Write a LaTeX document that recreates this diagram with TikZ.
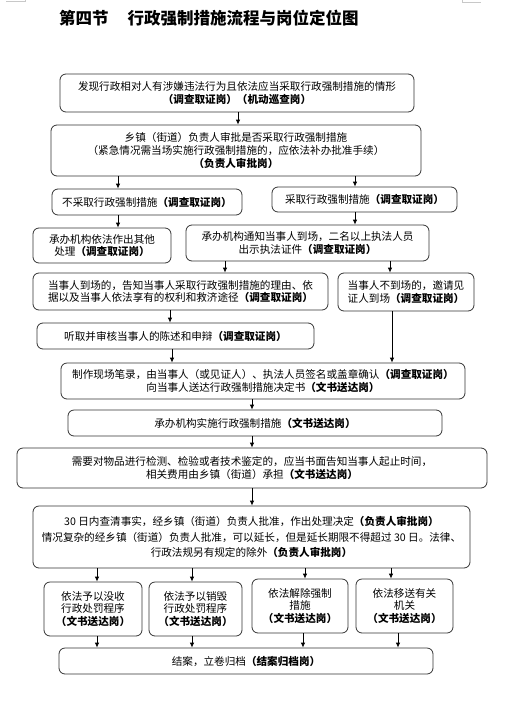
\documentclass[tikz,border=0pt]{standalone}
\usepackage{fontspec}
\setmainfont{Noto Sans CJK SC}
\usepackage{tikz}
\usetikzlibrary{arrows.meta, positioning, calc}
\definecolor{boxline}{HTML}{333333}
\definecolor{cropgray}{HTML}{C8C8C8}
\tikzset{
	flowbox/.style={
			draw=boxline,
			line width=0.8pt,
			rounded corners=6pt,
			align=center,
			inner sep=0pt,
			font=\fontsize{10.6}{12.8}\selectfont
		},
	flow/.style={
			line width=0.8pt,
			-{Latex[length=5pt,width=4.5pt]}
		},
	titletext/.style={
			anchor=west,
			inner sep=0pt,
			font=\fontsize{16.5}{18}\selectfont\bfseries
		}
}

\begin{document}
\begin{tikzpicture}[x=1pt, y=-1pt]
\useasboundingbox (0,0) rectangle (506,705);
\draw[cropgray, line width=0.6pt] (6,1) -- (25,1) -- (25,0);
\draw[cropgray, line width=0.6pt] (462,0) -- (462,2) -- (481,2);

\node[titletext] (title) at (59,18) {第四节\hspace{19pt}行政强制措施流程与岗位定位图};

\node[flowbox, minimum width=354pt, minimum height=38pt] (b1) at (237,93)
  {发现行政相对人有涉嫌违法行为且依法应当采取行政强制措施的情形\\\textbf{（调查取证岗）（机动巡查岗）}};
\node[flowbox, minimum width=370pt, minimum height=51pt] (b2) at (236,150.5)
  {乡镇（街道）负责人审批是否采取行政强制措施\\（紧急情况需当场实施行政强制措施的，应依法补办批准手续）\\\textbf{（负责人审批岗）}};
\node[flowbox, minimum width=190pt, minimum height=26pt] (b3) at (147,202)
  {不采取行政强制措施\textbf{（调查取证岗）}};
\node[flowbox, minimum width=185pt, minimum height=25pt] (b4) at (364.5,199.5)
  {采取行政强制措施\textbf{（调查取证岗）}};
\node[flowbox, minimum width=138pt, minimum height=35pt] (b5) at (102,245.5)
  {承办机构依法作出其他\\处理\textbf{（调查取证岗）}};
\node[flowbox, minimum width=243pt, minimum height=36pt] (b6) at (307.5,243)
  {承办机构通知当事人到场，二名以上执法人员\\出示执法证件\textbf{（调查取证岗）}};
\node[flowbox, minimum width=295pt, minimum height=37pt] (b7) at (180.5,291.5)
  {当事人到场的，告知当事人采取行政强制措施的理由、依\\据以及当事人依法享有的权利和救济途径\textbf{（调查取证岗）}};
\node[flowbox, minimum width=136pt, minimum height=38pt] (b8) at (406,292)
  {当事人不到场的，邀请见\\证人到场\textbf{（调查取证岗）}};
\node[flowbox, minimum width=277pt, minimum height=26pt] (b9) at (175.5,336)
  {听取并审核当事人的陈述和申辩\textbf{（调查取证岗）}};
\node[flowbox, minimum width=404pt, minimum height=36pt] (b10) at (263,381)
  {制作现场笔录，由当事人（或见证人）、执法人员签名或盖章确认\textbf{（调查取证岗）}\\向当事人送达行政强制措施决定书\textbf{（文书送达岗）}};
\node[flowbox, minimum width=374pt, minimum height=26pt] (b11) at (255,423)
  {承办机构实施行政强制措施\textbf{（文书送达岗）}};
\node[flowbox, minimum width=470pt, minimum height=40pt] (b12) at (252,468)
  {需要对物品进行检测、检验或者技术鉴定的，应当书面告知当事人起止时间，\\相关费用由乡镇（街道）承担\textbf{（文书送达岗）}};
\node[flowbox, minimum width=437pt, minimum height=62pt, font=\fontsize{10.6}{15.5}\selectfont] (b13) at (251.5,537)
  {30 日内查清事实，经乡镇（街道）负责人批准，作出处理决定\textbf{（负责人审批岗）}\\情况复杂的经乡镇（街道）负责人批准，可以延长，但是延长期限不得超过 30 日。法律、\\行政法规另有规定的除外\textbf{（负责人审批岗）}};
\node[flowbox, minimum width=98pt, minimum height=54pt] (b14) at (93,609)
  {依法予以没收\\行政处罚程序\\\textbf{（文书送达岗）}};
\node[flowbox, minimum width=93pt, minimum height=54pt] (b15) at (195.5,609)
  {依法予以销毁\\行政处罚程序\\\textbf{（文书送达岗）}};
\node[flowbox, minimum width=96pt, minimum height=54pt] (b16) at (300,606)
  {依法解除强制\\措施\\\textbf{（文书送达岗）}};
\node[flowbox, minimum width=97pt, minimum height=54pt] (b17) at (404.5,606)
  {依法移送有关\\机关\\\textbf{（文书送达岗）}};
\node[flowbox, minimum width=374pt, minimum height=26pt] (b18) at (246,661)
  {结案，立卷归档\textbf{（结案归档岗）}};

\coordinate (xa) at (238,0);
\coordinate (xb) at (118,0);
\coordinate (xc) at (355,0);
\coordinate (xd) at (225,0);
\coordinate (xe) at (390,0);
\coordinate (xf) at (170,0);
\coordinate (xg) at (172,0);
\coordinate (xh) at (392,0);
\coordinate (xi) at (252,0);
\coordinate (xj) at (97,0);
\coordinate (xk) at (192,0);
\coordinate (xl) at (305,0);
\coordinate (xm) at (391,0);
\coordinate (xn) at (303,0);
\coordinate (xo) at (398,0);

\draw[flow] (b1.south -| xa) -- (b2.north -| xa);
\draw[flow] (b2.south -| xb) -- (b3.north -| xb);
\draw[flow] (b2.south -| xc) -- (b4.north -| xc);
\draw[flow] (b3.south -| xb) -- (b5.north -| xb);
\draw[flow] (b4.south -| xc) -- (b6.north -| xc);
\draw[flow] (b6.south -| xd) -- (b7.north -| xd);
\draw[flow] (b6.south -| xe) -- (b8.north -| xe);
\draw[flow] (b7.south -| xf) -- (b9.north -| xf);
\draw[flow] (b9.south -| xg) -- (b10.north -| xg);
\draw[flow] (b8.south -| xh) -- (b10.north -| xh);
\draw[flow] (b10.south -| xi) -- (b11.north -| xi);
\draw[flow] (b11.south -| xi) -- (b12.north -| xi);
\draw[flow] (b12.south -| xi) -- (b13.north -| xi);
\draw[flow] (b13.south -| xj) -- (b14.north -| xj);
\draw[flow] (b13.south -| xk) -- (b15.north -| xk);
\draw[flow] (b13.south -| xl) -- (b16.north -| xl);
\draw[flow] (b13.south -| xm) -- (b17.north -| xm);
\draw[flow] (b14.south -| xj) -- (b18.north -| xj);
\draw[flow] (b15.south -| xk) -- (b18.north -| xk);
\draw[flow] (b16.south -| xn) -- (b18.north -| xn);
\draw[flow] (b17.south -| xo) -- (b18.north -| xo);
\end{tikzpicture}
\end{document}
